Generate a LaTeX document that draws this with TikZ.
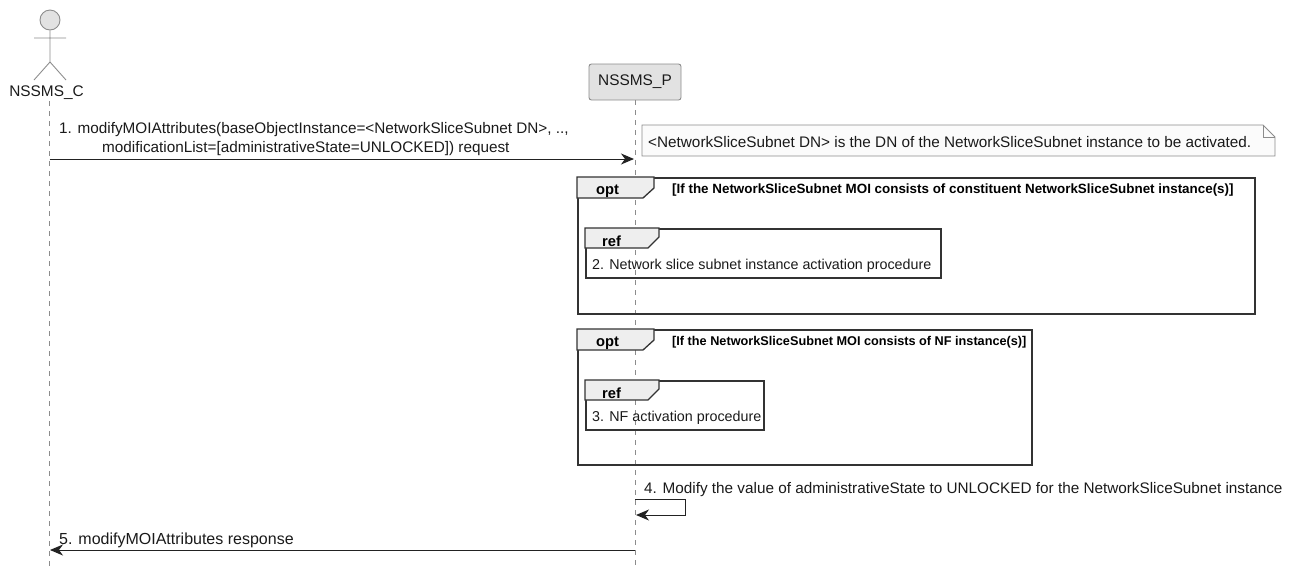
\documentclass[tikz,border=0pt]{standalone}
\usepackage{fontspec}
\setmainfont{Liberation Sans}
\usetikzlibrary{arrows.meta}
\definecolor{boxfill}{HTML}{E2E2E2}
\definecolor{boxline}{HTML}{8C8C8C}
\definecolor{tabfill}{HTML}{EEEEEE}
\definecolor{notefill}{HTML}{FBFBFB}
\definecolor{msgline}{HTML}{222222}
\definecolor{msgtext}{HTML}{1A1A1A}
\tikzset{
  label/.style={inner sep=0pt,anchor=base west,text=msgtext,font=\fontsize{15.3}{18}\selectfont},
  reftext/.style={label,font=\fontsize{14.3}{18}\selectfont},
  bold/.style={inner sep=0pt,anchor=base west,font=\fontsize{14.7}{18}\selectfont\bfseries},
  guard/.style={inner sep=0pt,anchor=base west,font=\fontsize{13.4}{18}\selectfont\bfseries},
  life/.style={boxline,dash pattern=on 5pt off 5pt,line width=0.8pt},
  msg/.style={-{Stealth[length=13pt,width=11pt,inset=4pt]},msgline,line width=1pt},
  frame/.style={draw=black!80,line width=1.6pt,inner sep=0pt,anchor=north west},
  tab/.style={draw=black!80,fill=tabfill,line width=1.3pt}
}
\begin{document}
\begin{tikzpicture}[x=1pt,y=-1pt]
\useasboundingbox (0,0) rectangle (1293,566);

  % participants
  \node [circle,draw=boxline,fill=boxfill,line width=0.9pt,minimum size=20pt,inner sep=0pt] (head) at (50,20) {};
  \coordinate (neck) at (50,62);
  \coordinate (armL) at (34,38);
  \coordinate (armR) at (66,38);
  \coordinate (legL) at (34,80);
  \coordinate (legR) at (66,80);
  \draw [boxline,line width=0.9pt] (head) -- (neck) (armL) -- (armR) (legL) -- (neck) -- (legR);
  \node [text=msgtext,font=\fontsize{15.4}{18}\selectfont,inner sep=0pt] (client) at (46.5,92.5) {NSSMS\_C};
  \node [draw=boxline,fill=boxfill,rounded corners=2.5pt,line width=0.9pt,minimum width=92pt,minimum height=36pt,inner sep=0pt,text=msgtext,font=\fontsize{15.4}{18}\selectfont] (prov) at (635,82) {NSSMS\_P};

  % lifelines
  \coordinate (clientTop) at (49.5,101);
  \coordinate (clientEnd) at (49.5,566);
  \coordinate (provEnd) at (635,566);
  \draw [life] (clientTop) -- (clientEnd);
  \draw [life] (prov.south) -- (provEnd);

  % note
  \coordinate (n1) at (642,125);
  \coordinate (n2) at (1263,125);
  \coordinate (n3) at (1275,137);
  \coordinate (n4) at (1275,156);
  \coordinate (n5) at (642,156);
  \coordinate (n6) at (1263,137);
  \draw [boxline,fill=notefill,line width=0.9pt] (n1) -- (n2) -- (n3) -- (n4) -- (n5) -- cycle;
  \draw [boxline,line width=0.9pt] (n2) -- (n6) -- (n3);
  \node [label] (notetext) at (648,147) {<NetworkSliceSubnet DN> is the DN of the NetworkSliceSubnet instance to be activated.};

  % frames
  \node [frame,minimum width=677pt,minimum height=136pt] (optA) at (577,177) {};
  \node [frame,minimum width=454pt,minimum height=135pt] (optB) at (577,329) {};
  \node [frame,minimum width=355pt,minimum height=49pt] (refA) at (585,228) {};
  \node [frame,minimum width=178pt,minimum height=49pt] (refB) at (585,380) {};
\foreach \f in {optA,optB}
\draw [tab] (\f.north west) -- ++(77,0) -- ++(0,11) -- ++(-11,10) -- ++(-66,0) -- cycle;
\foreach \f in {refA,refB}
\draw [tab] (\f.north west) -- ++(74,0) -- ++(0,9) -- ++(-11,11) -- ++(-63,0) -- cycle;

  \node [bold] (optAname) at (596,194) {opt};
  \node [bold] (optBname) at (596,346) {opt};
  \node [bold] (refAname) at (602,246) {ref};
  \node [bold] (refBname) at (602,398) {ref};
  \node [guard] (optAtext) at (672,193) {[If the NetworkSliceSubnet MOI consists of constituent NetworkSliceSubnet instance(s)]};
  \node [guard,font=\fontsize{12.7}{18}\selectfont\bfseries] (optBtext) at (672,345) {[If the NetworkSliceSubnet MOI consists of NF instance(s)]};
  \node [reftext] (refAtext) at (592,269) {2. Network slice subnet instance activation procedure};
  \node [reftext] (refBtext) at (592,421) {3. NF activation procedure};

  % messages
  \node [label] (m1a) at (59,133.5) {1. modifyMOIAttributes(baseObjectInstance=<NetworkSliceSubnet DN>, ..,};
  \node [label] (m1b) at (102,152) {modificationList=[administrativeState=UNLOCKED]) request};
  \node [label] (m4) at (644,493) {4. Modify the value of administrativeState to UNLOCKED for the NetworkSliceSubnet instance};
  \node [label,font=\fontsize{16}{18}\selectfont] (m5) at (59,544) {5. modifyMOIAttributes response};

  \coordinate (a1) at (49.5,159);
  \coordinate (b1) at (634,159);
  \coordinate (a2) at (635,499);
  \coordinate (c2) at (685,499);
  \coordinate (d2) at (685,515);
  \coordinate (b2) at (636,515);
  \coordinate (a3) at (635,550);
  \coordinate (b3) at (50,550);
\draw [msg] (a1) -- (b1);
\draw [msg] (a2) -- (c2) -- (d2) -- (b2);
\draw [msg] (a3) -- (b3);

\end{tikzpicture}
\end{document}
